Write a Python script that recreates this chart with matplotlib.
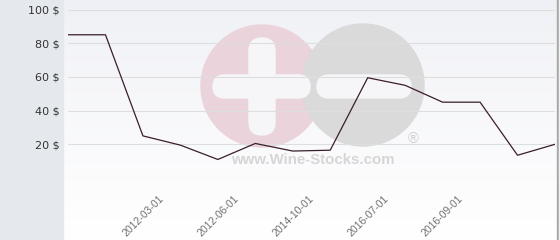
import matplotlib
matplotlib.use("Agg")
import matplotlib.pyplot as plt
import numpy as np
from matplotlib.patches import Circle, Rectangle, FancyBboxPatch

# price per period (categorical x axis)
prices = [85, 85, 25, 19.5, 11, 20.5, 16, 16.5, 59.5, 55, 45, 45, 13.5, 20]
tick_pos = [2, 4, 6, 8, 10]
tick_labels = ["2012-03-01", "2012-06-01", "2014-10-01", "2016-07-01", "2016-09-01"]
y_ticks = [0, 20, 40, 60, 80, 100]
y_labels = ["", "20 $", "40 $", "60 $", "80 $", "100 $"]

W, H = 560, 240
fig = plt.figure(figsize=(W / 100, H / 100), dpi=100)

# background layer in pixel coordinates
bg = fig.add_axes([0, 0, 1, 1])
bg.set_xlim(0, W)
bg.set_ylim(H, 0)
bg.axis("off")
grad = np.linspace(0, 1, 256).reshape(-1, 1)
top = np.array([239, 240, 245]) / 255
bot = np.array([255, 255, 255]) / 255
img = top + (bot - top) * grad[:, :, None] ** 0.8
bg.imshow(img, extent=[63, 557, H, 0], aspect="auto", zorder=0)
bg.add_patch(Rectangle((0, 0), 63, H, color="#e5e9ed", zorder=1))
bg.add_patch(Rectangle((557, 0), 1.5, H, color="#a8a8a8", zorder=1))
bg.add_patch(Rectangle((558.5, 0), 2, H, color="#f2f2f2", zorder=1))

# watermark
bg.add_patch(Circle((262, 86), 61, color="#ead3da", zorder=2))
bg.add_patch(Circle((363, 85), 61, color="#dadada", zorder=3))
wm = "#f6f6f9"
bg.add_patch(FancyBboxPatch((249, 38), 26, 97, boxstyle="round,pad=0,rounding_size=13",
                            color=wm, zorder=4))
bg.add_patch(FancyBboxPatch((213, 75), 97, 23, boxstyle="round,pad=0,rounding_size=11.5",
                            color=wm, zorder=4))
bg.add_patch(FancyBboxPatch((317, 75), 94, 23, boxstyle="round,pad=0,rounding_size=11.5",
                            color=wm, zorder=4))
bg.text(313, 160, "www.Wine-Stocks.com", ha="center", va="center", fontsize=10.8,
        fontweight="bold", color="#d6d6d6", family="Liberation Sans", zorder=4)
bg.text(413, 139, "\u00ae", ha="center", va="center", fontsize=10.5,
        color="#cfcfcf", family="Liberation Sans", zorder=4)

# main chart
x0, x1 = 68, 555
y_top, y_bot = 9.5, 178
ax = fig.add_axes([x0 / W, (H - y_bot) / H, (x1 - x0) / W, (y_bot - y_top) / H])
ax.patch.set_alpha(0)
ax.set_xlim(0, len(prices) - 1)
ax.set_ylim(0, 100)
ax.plot(range(len(prices)), prices, color="#3a1d2b", linewidth=0.9, zorder=3)

ax.set_yticks(y_ticks)
ax.set_yticklabels(y_labels, fontsize=8, color="#333333")
ax.set_xticks(tick_pos)
ax.set_xticklabels(tick_labels, rotation=45, ha="center", fontsize=7.5, color="#707070",
                   family="Liberation Sans")
ax.tick_params(axis="both", length=0)
ax.tick_params(axis="y", pad=6)
ax.tick_params(axis="x", pad=11)
ax.grid(axis="y", color="#dedede", linewidth=0.8)
ax.grid(axis="x", visible=False)
for s in ax.spines.values():
    s.set_visible(False)

fig.savefig("out.png", dpi=100)
